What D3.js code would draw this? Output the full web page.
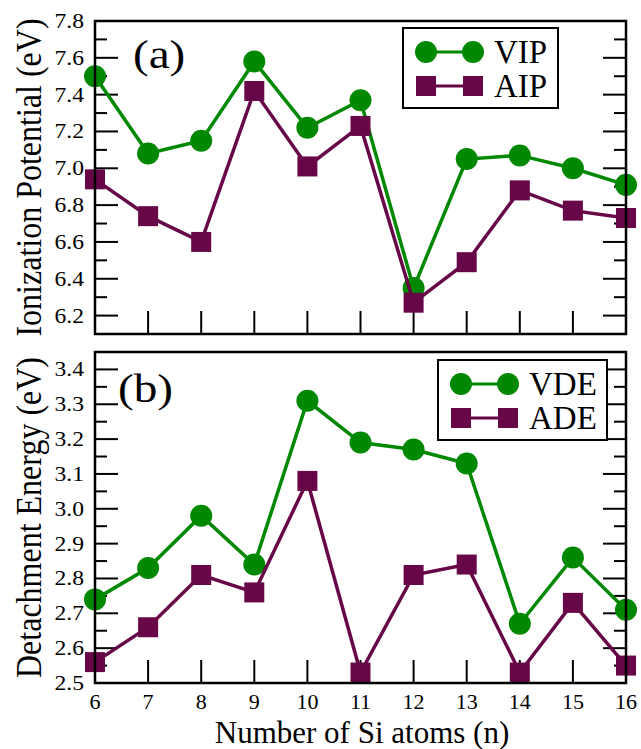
<!DOCTYPE html>
<html>
<head>
<meta charset="utf-8">
<script src="https://cdn.jsdelivr.net/npm/d3@7"></script>
<style>
  body { margin: 0; background: #fff; }
</style>
</head>
<body>
<svg id="fig" width="641" height="749"></svg>
<script>

var sizes = [6, 7, 8, 9, 10, 11, 12, 13, 14, 15, 16];

var vip = [7.50, 7.08, 7.15, 7.58, 7.22, 7.37, 6.35, 7.05, 7.07, 7.00, 6.91];
var aip = [6.94, 6.74, 6.60, 7.42, 7.01, 7.23, 6.27, 6.49, 6.88, 6.77, 6.73];

var vde = [2.74, 2.83, 2.98, 2.84, 3.31, 3.19, 3.17, 3.13, 2.67, 2.86, 2.71];
var ade = [2.56, 2.66, 2.81, 2.76, 3.08, 2.53, 2.81, 2.84, 2.53, 2.73, 2.55];

var ipTicks = [6.2, 6.4, 6.6, 6.8, 7.0, 7.2, 7.4, 7.6, 7.8];
var deTicks = [2.5, 2.6, 2.7, 2.8, 2.9, 3.0, 3.1, 3.2, 3.3, 3.4];

var green = "#008800";
var maroon = "#670748";
var serif = "'Liberation Serif'";

var svg = d3.select("svg#fig");

var left = 95, right = 626;

var x = d3.scaleLinear().domain([6, 16]).range([left, right]);

var draw_panel = function(opt) {

  var y = d3.scaleLinear().domain(opt.domain).range([opt.bottom, opt.top]);
  var g = svg.append("g");

  // minor + major ticks, left and right, pointing inward
  var minor = d3.range(opt.domain[0], opt.domain[1] + 1e-9, opt.minorStep)
    .filter(function(v) { return y(v) > opt.top + 0.5; });

  g.selectAll(".tick")
  .data(minor)
  .enter().append("g")
  .each(function(v) {
    var isMajor = opt.ticks.some(function(t) { return Math.abs(t - v) < 1e-6; });
    var len = isMajor ? 23 : 12;
    d3.select(this).append("line")
    .attr("x1", left).attr("x2", left + len)
    .attr("y1", y(v)).attr("y2", y(v))
    .attr("stroke", "#000").attr("stroke-width", 2);
    d3.select(this).append("line")
    .attr("x1", right).attr("x2", right - len)
    .attr("y1", y(v)).attr("y2", y(v))
    .attr("stroke", "#000").attr("stroke-width", 2);
  });

  g.selectAll(".ylab")
  .data(opt.ticks)
  .enter().append("text")
  .attr("transform", function(d) { return "translate(84," + (y(d) + 7) + ") scale(1.18,1)"; })
  .attr("text-anchor", "end")
  .style("font-family", serif)
  .style("font-size", "20px")
  .text(function(d) { return d.toFixed(1); });

  // x ticks at bottom, inward
  g.selectAll(".xt")
  .data(sizes.slice(1, -1))
  .enter().append("line")
  .attr("x1", function(d) { return x(d); })
  .attr("x2", function(d) { return x(d); })
  .attr("y1", opt.bottom)
  .attr("y2", opt.bottom - 23)
  .attr("stroke", "#000").attr("stroke-width", 2);

  var line = d3.line()
  .x(function(d, i) { return x(sizes[i]); })
  .y(function(d) { return y(d); });

  g.append("path")
  .attr("d", line(opt.s1))
  .attr("fill", "none").attr("stroke", green).attr("stroke-width", 3.5);

  g.selectAll(".c1")
  .data(opt.s1)
  .enter().append("circle")
  .attr("cx", function(d, i) { return x(sizes[i]); })
  .attr("cy", function(d) { return y(d); })
  .attr("r", 11)
  .attr("fill", green);

  g.append("path")
  .attr("d", line(opt.s2))
  .attr("fill", "none").attr("stroke", maroon).attr("stroke-width", 3.5);

  g.selectAll(".s2")
  .data(opt.s2)
  .enter().append("rect")
  .attr("x", function(d, i) { return x(sizes[i]) - 10; })
  .attr("y", function(d) { return y(d) - 10; })
  .attr("width", 20).attr("height", 20)
  .attr("fill", maroon);

  // frame
  g.append("rect")
  .attr("x", left).attr("y", opt.top)
  .attr("width", right - left).attr("height", opt.bottom - opt.top)
  .attr("fill", "none").attr("stroke", "#000").attr("stroke-width", 2.5);

  // legend
  var lg = opt.legend;
  g.append("rect")
  .attr("x", lg.x).attr("y", lg.y)
  .attr("width", lg.w).attr("height", lg.h)
  .attr("fill", "#fff").attr("stroke", "#000").attr("stroke-width", 2);

  var rows = [
    {label: lg.labels[0], color: green, shape: "circle", cy: lg.y + 24},
    {label: lg.labels[1], color: maroon, shape: "square", cy: lg.y + 58}
  ];

  rows.forEach(function(r) {
    g.append("line")
    .attr("x1", lg.x + 23).attr("x2", lg.x + 70)
    .attr("y1", r.cy).attr("y2", r.cy)
    .attr("stroke", r.color).attr("stroke-width", 3);
    [lg.x + 23, lg.x + 70].forEach(function(cx) {
      if (r.shape == "circle")
        g.append("circle").attr("cx", cx).attr("cy", r.cy).attr("r", 11).attr("fill", r.color);
      else
        g.append("rect").attr("x", cx - 10).attr("y", r.cy - 10)
        .attr("width", 20).attr("height", 20).attr("fill", r.color);
    });
    g.append("text")
    .attr("x", lg.x + 91).attr("y", r.cy + 11)
    .style("font-family", serif)
    .style("font-size", "33px")
    .text(r.label);
  });

  g.append("text")
  .attr("transform", "translate(" + opt.tag[0] + "," + opt.tag[1] + ") scale(1.15,1)")
  .style("font-family", serif)
  .style("font-size", "41px")
  .text(opt.tagText);

  g.append("text")
  .attr("transform", "translate(41," + ((opt.top + opt.bottom) / 2) + ") rotate(-90) scale(1,1.12)")
  .attr("text-anchor", "middle")
  .style("font-family", serif)
  .style("font-size", "32px")
  .text(opt.title);

  return y;
};

draw_panel({
  top: 21, bottom: 334, domain: [6.1, 7.8], minorStep: 0.1, ticks: ipTicks,
  s1: vip, s2: aip,
  legend: {x: 403, y: 28, w: 155, h: 80, labels: ["VIP", "AIP"]},
  tag: [133, 68], tagText: "(a)",
  title: "Ionization Potential (eV)"
});

draw_panel({
  top: 352, bottom: 683, domain: [2.5, 3.45], minorStep: 0.05, ticks: deTicks,
  s1: vde, s2: ade,
  legend: {x: 438, y: 360, w: 169, h: 80, labels: ["VDE", "ADE"]},
  tag: [118, 402], tagText: "(b)",
  title: "Detachment Energy (eV)"
});

svg.selectAll(".xlab")
.data(sizes)
.enter().append("text")
.attr("x", function(d) { return x(d); })
.attr("y", 709)
.attr("text-anchor", "middle")
.style("font-family", serif)
.style("font-size", "22px")
.text(function(d) { return d; });

svg.append("text")
.attr("x", 362).attr("y", 743)
.attr("text-anchor", "middle")
.style("font-family", serif)
.style("font-size", "31px")
.text("Number of Si atoms (n)");

</script>
</body>
</html>
